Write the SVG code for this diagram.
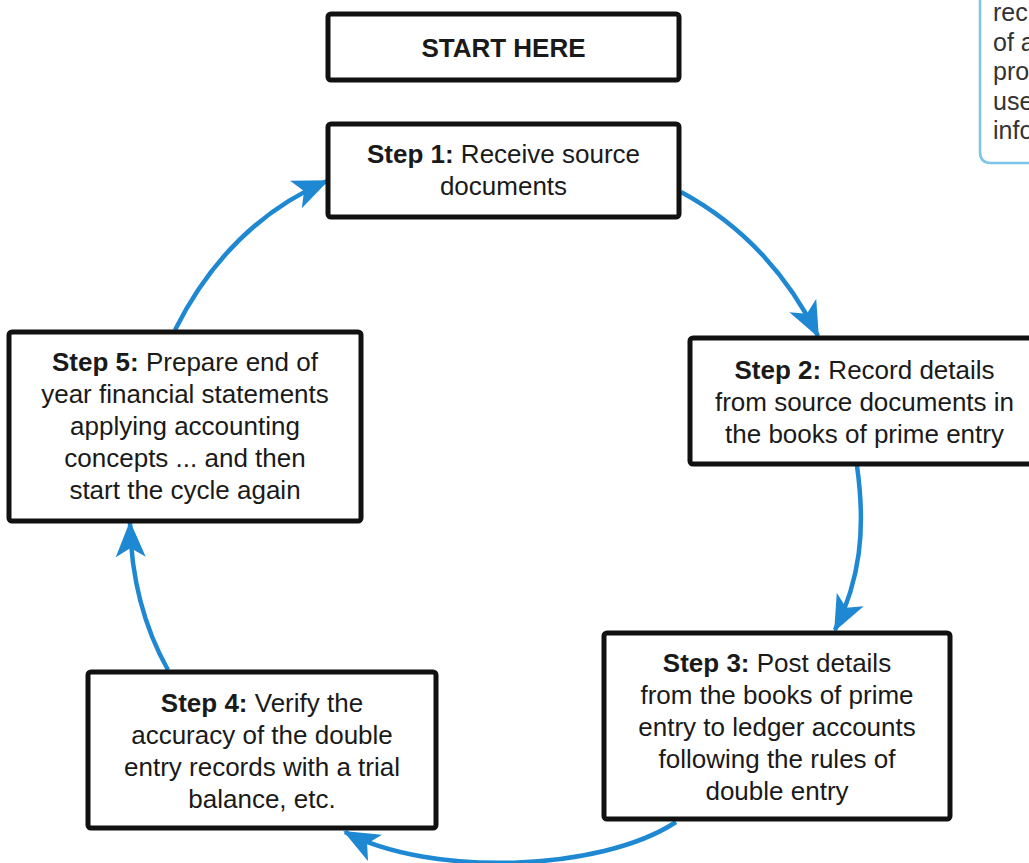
<svg xmlns="http://www.w3.org/2000/svg" width="1029" height="863" viewBox="0 0 1029 863">
<style>
.box{fill:#fff;stroke:#111;stroke-width:5}
.t{font-family:"Liberation Sans",Arial,sans-serif;font-size:26px;fill:#1a1a1a;text-anchor:middle}
.b{font-weight:bold}
.conn{fill:none;stroke:#1e88d2;stroke-width:4.5;marker-end:url(#ah)}
.note{font-family:"Liberation Sans",Arial,sans-serif;font-size:25px;fill:#333}
</style>
<defs>
<marker id="ah" markerUnits="userSpaceOnUse" viewBox="0 0 36 30" refX="34" refY="15" markerWidth="36" markerHeight="30" orient="auto">
<path d="M0,0 L36,15 L0,30 L9,15 Z" fill="#1e88d2"/>
</marker>
</defs>
<rect width="1029" height="863" fill="#fff"/>
<g id="note">
<path d="M980,-10 L980,152 Q980,163 991,163 L1040,163" fill="none" stroke="#7cc5e8" stroke-width="2.5"/>
<text class="note" x="993" y="21">rec</text>
<text class="note" x="993" y="50.5">of a</text>
<text class="note" x="993" y="80">pro</text>
<text class="note" x="993" y="109.5">use</text>
<text class="note" x="993" y="139">info</text>
</g>
<g id="connectors">
<path class="conn" d="M681,192 Q770,240 818,336"/>
<path class="conn" d="M857,466 C866,530 860,580 835,630"/>
<path class="conn" d="M676,822 C600,872 430,877 345,832"/>
<path class="conn" d="M168,670 C140,620 131,570 130,523"/>
<path class="conn" d="M175,330 C210,260 260,210 327,181"/>
</g>
<g id="start">
<rect class="box" x="328" y="14" width="351" height="66" rx="3"/>
<text class="t b" x="503.5" y="57">START HERE</text>
</g>
<g id="step1">
<rect class="box" x="328" y="124" width="351" height="93" rx="3"/>
<text class="t" x="503.5" y="163"><tspan class="b">Step 1:</tspan> Receive source</text>
<text class="t" x="503.5" y="195">documents</text>
</g>
<g id="step2">
<rect class="box" x="690" y="338" width="360" height="126" rx="3"/>
<text class="t" x="864.5" y="379"><tspan class="b">Step 2:</tspan> Record details</text>
<text class="t" x="864.5" y="411">from source documents in</text>
<text class="t" x="864.5" y="443">the books of prime entry</text>
</g>
<g id="step3">
<rect class="box" x="604" y="633" width="346" height="186" rx="3"/>
<text class="t" x="777" y="672"><tspan class="b">Step 3:</tspan> Post details</text>
<text class="t" x="777" y="704">from the books of prime</text>
<text class="t" x="777" y="736">entry to ledger accounts</text>
<text class="t" x="777" y="768">following the rules of</text>
<text class="t" x="777" y="800">double entry</text>
</g>
<g id="step4">
<rect class="box" x="88" y="672" width="348" height="156" rx="3"/>
<text class="t" x="262" y="712"><tspan class="b">Step 4:</tspan> Verify the</text>
<text class="t" x="262" y="744">accuracy of the double</text>
<text class="t" x="262" y="776">entry records with a trial</text>
<text class="t" x="262" y="808">balance, etc.</text>
</g>
<g id="step5">
<rect class="box" x="9" y="332" width="352" height="189" rx="3"/>
<text class="t" x="185" y="371"><tspan class="b">Step 5:</tspan> Prepare end of</text>
<text class="t" x="185" y="403">year financial statements</text>
<text class="t" x="185" y="435">applying accounting</text>
<text class="t" x="185" y="467">concepts ... and then</text>
<text class="t" x="185" y="499">start the cycle again</text>
</g>
</svg>
